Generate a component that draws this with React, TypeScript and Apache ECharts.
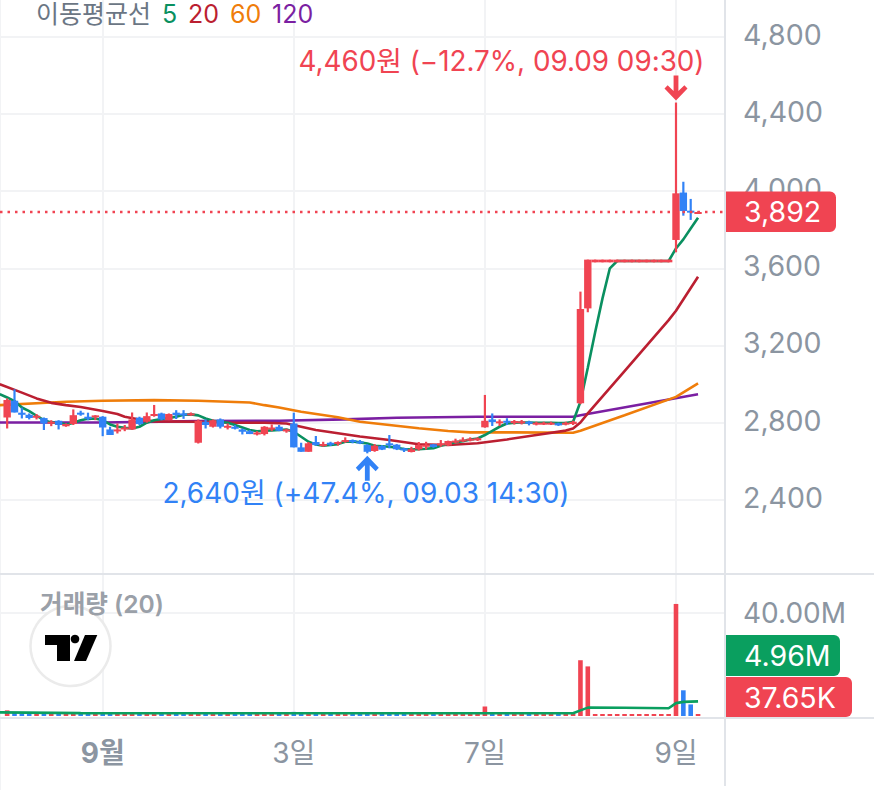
import React, { useEffect, useRef } from "react";
import * as echarts from "echarts";

const RED = "#f04452";
const BLUE = "#3182f6";
const GREY = "#8b95a1";
const GRID = "#f2f3f5";
const SEP = "#e1e4e9";
const FONT = 'Inter, "Noto Sans CJK KR", sans-serif';

// open, close, low, high for every 30-minute bar
const candles: number[][] = [
  [2826,2917,2769,2925],[2913,2852,2852,2972],[2851,2840,2821,2877],[2840,2823,2816,2847],[2828,2835,2816,2844],
  [2823,2795,2761,2826],[2799,2804,2781,2812],[2809,2787,2764,2812],[2781,2792,2778,2795],[2792,2838,2787,2868],
  [2851,2842,2835,2861],[2830,2819,2812,2851],[2828,2837,2812,2838],[2830,2774,2729,2833],[2764,2735,2735,2778],
  [2757,2764,2743,2795],[2764,2774,2755,2787],[2764,2816,2761,2852],[2825,2792,2787,2830],[2804,2833,2799,2852],
  [2837,2844,2830,2891],[2847,2816,2812,2851],[2812,2844,2812,2847],[2851,2838,2818,2864],[2847,2838,2819,2864],
  [2840,2847,2835,2852],[2695,2809,2691,2816],[2804,2787,2769,2816],[2778,2812,2774,2816],[2816,2778,2769,2821],
  [2776,2783,2764,2795],[2778,2773,2764,2787],[2764,2752,2738,2769],[2755,2740,2740,2761],[2740,2748,2733,2755],
  [2740,2778,2733,2781],[2768,2774,2755,2790],[2778,2757,2755,2787],[2757,2764,2747,2768],[2795,2671,2671,2851],
  [2671,2648,2648,2695],[2648,2692,2648,2699],[2699,2683,2680,2730],[2681,2688,2674,2700],[2695,2685,2678,2700],
  [2690,2699,2680,2702],[2700,2709,2695,2723],[2709,2699,2692,2712],[2702,2692,2688,2709],[2683,2648,2640,2688],
  [2652,2680,2648,2688],[2678,2659,2657,2683],[2692,2683,2666,2735],[2685,2661,2657,2688],[2666,2655,2647,2669],
  [2647,2661,2645,2674],[2661,2683,2654,2699],[2674,2685,2660,2700],[2687,2673,2669,2688],[2681,2692,2674,2709],
  [2681,2704,2678,2706],[2699,2706,2692,2716],[2706,2712,2699,2723],[2709,2716,2702,2723],[2711,2718,2704,2723],
  [2775,2809,2773,2943],[2816,2802,2782,2847],[2796,2806,2782,2816],[2809,2802,2787,2822],[2796,2808,2789,2813],
  [2796,2806,2790,2813],[2804,2796,2785,2809],[2790,2799,2785,2804],[2790,2799,2787,2804],[2792,2799,2787,2804],
  [2796,2785,2782,2799],[2790,2799,2785,2804],[2792,2804,2787,2809],[2900,3389,2895,3479],[3392,3645,3372,3645],
  [3631,3645,3631,3645],[3631,3645,3631,3645],[3631,3645,3631,3645],[3631,3645,3631,3645],[3631,3645,3631,3645],
  [3631,3645,3631,3645],[3631,3645,3631,3645],[3631,3645,3631,3645],[3631,3645,3631,3645],[3631,3645,3631,3645],
  [3631,3645,3631,3645],[3747,3989,3683,4460],[3993,3897,3873,4049],[3899,3892,3851,3960],[3885,3892,3885,3895],
];

// volume in millions, one value per bar
const volumes = [
  2.2,1.4,0.9,0.7,0.5,1.2,0.5,0.8,0.5,1.1,0.6,0.6,0.5,1.3,1.0,0.6,0.5,1.0,0.8,0.7,
  0.7,0.7,0.8,0.6,0.5,0.4,1.5,0.7,0.8,0.7,0.5,0.4,0.5,0.5,0.4,0.6,0.4,0.5,0.4,1.6,
  0.9,0.8,0.7,0.4,0.4,0.4,0.5,0.4,0.4,0.7,0.6,0.5,0.6,0.5,0.4,0.4,0.5,0.5,0.4,0.4,
  0.5,0.4,0.4,0.4,0.4,3.7,0.9,0.5,0.5,0.5,0.4,0.4,0.4,0.4,0.4,0.4,0.4,0.4,21.7,19.3,
  0.7,0.6,0.6,0.6,0.6,0.6,0.6,0.6,0.6,0.6,0.6,43.6,10.0,4.5,0.04,
];

// moving averages: [bar index, value]
const ma5: number[][] = [
  [-1,2947],[0,2930],[1,2911],[2,2878],[3,2859],[4,2835],[5,2812],[6,2800],[7,2800],[8,2790],[9,2797],[10,2812],
  [11,2819],[12,2821],[13,2812],[14,2790],[15,2778],[16,2773],[17,2769],[18,2778],[19,2799],[20,2812],[21,2818],
  [22,2823],[23,2830],[24,2840],[25,2842],[26,2837],[27,2821],[28,2809],[29,2804],[30,2799],[31,2787],[32,2774],
  [33,2761],[34,2755],[35,2757],[36,2759],[37,2761],[38,2764],[39,2752],[40,2726],[41,2700],[42,2686],[43,2679],
  [44,2683],[45,2688],[46,2700],[47,2702],[48,2697],[49,2691],[50,2679],[51,2677],[52,2674],[53,2669],[54,2662],
  [55,2660],[56,2662],[57,2664],[58,2667],[59,2679],[60,2688],[61,2698],[62,2703],[63,2712],[64,2717],[65,2735],
  [66,2757],[67,2778],[68,2795],[69,2799],[70,2800],[71,2800],[72,2799],[73,2799],[74,2799],[75,2797],[76,2797],
  [77,2804],[78,2908],[79,3084],[80,3268],[81,3444],[82,3600],[83,3638],[90,3638],[91,3703],[92,3750],
  [93,3807],[94,3862],
];
const ma20: number[][] = [
  [-1,2998],[2,2955],[4,2925],[6,2902],[8,2890],[10,2880],[13,2860],[15,2844],[16,2830],[18,2816],[20,2806],
  [26,2804],[31,2799],[35,2799],[38,2795],[40,2778],[42,2761],[45,2744],[48,2727],[52,2709],[56,2687],[60,2683],
  [64,2692],[68,2712],[72,2735],[76,2758],[77,2769],[78,2800],[79,2847],[84,3067],[90,3331],[91,3380],[94,3556],
];
const ma60: number[][] = [
  [-1,2890],[6,2904],[8,2908],[13,2913],[20,2916],[26,2913],[33,2904],[35,2890],[37,2878],[40,2856],[45,2827],
  [48,2804],[52,2787],[56,2770],[60,2756],[63,2749],[69,2749],[77,2747],[78,2757],[84,2838],[91,2933],[94,3003],
];
const ma120: number[][] = [
  [-1,2800],[13,2800],[26,2807],[37,2809],[46,2816],[53,2825],[64,2830],[77,2830],[78,2838],[94,2947],
];
const volMa: number[][] = [
  [-1,1.4],[10,1.1],[40,1.05],[60,1.05],[77,1.05],[78,2.2],[79,3.25],[84,3.2],[90,3.0],[91,5.0],[92,5.5],[94,5.7],
];

const xTickIndex = [13, 39, 65, 91];
const xTickLabels = ["9월", "3일", "7일", "9일"];
const priceTicks = [2400, 2800, 3200, 3600, 4000, 4400, 4800];
const volumeTicks = [40];

const lastPrice = "3,892";
const lastVolMa = "4.96M";
const lastVol = "37.65K";
const highText = "4,460원 (−12.7%, 09.09 09:30)";
const lowText = "2,640원 (+47.4%, 09.03 14:30)";

const arrowDown = "path://M8.7 0H13.3V15.5L19 9.7L22 13L11 25L0 13L3 9.7L8.7 15.5Z";
const arrowUp = "path://M8.7 25H13.3V9.5L19 15.3L22 12L11 0L0 12L3 15.3L8.7 9.5Z";

function tag(top: number, h: number, right: number, color: string, label: string) {
  return [
    { type: "rect", z: 50, shape: { x: 726, y: top, width: right - 726, height: h, r: [0, 6, 6, 0] }, style: { fill: color } },
    { type: "text", z: 51, x: 744, y: top + h / 2, style: { text: label, fill: "#fff", fontFamily: FONT, fontSize: 28.5, align: "left", verticalAlign: "middle" } },
  ];
}

function legendText(x: number, text: string, fill: string) {
  return { type: "text", z: 8, x, y: 14, style: { text, fill, fontFamily: FONT, fontSize: 25, align: "left", verticalAlign: "middle" } };
}

export default function App() {
  const ref = useRef<HTMLDivElement>(null);
  useEffect(() => {
    document.body.style.margin = "0";
    const chart = echarts.init(ref.current!, undefined, { renderer: "svg" });
    const xBase = {
      type: "value",
      min: -0.973,
      max: 97.667,
      axisLine: { show: false },
      axisTick: { show: false, customValues: xTickIndex },
      splitLine: { show: true, lineStyle: { color: GRID, width: 2 } },
    };
    const yBase = {
      type: "value",
      position: "right",
      axisLine: { show: false },
      axisTick: { show: false },
      splitLine: { show: true, lineStyle: { color: GRID, width: 2 } },
    };
    const line = (name: string, data: number[][], color: string, extra: object = {}) => ({
      name, type: "line", data, showSymbol: false, symbol: "none", z: 2,
      lineStyle: { color, width: 2.6 }, itemStyle: { color }, silent: true, ...extra,
    });
    chart.setOption({
      animation: false,
      grid: [
        { left: 0, top: 0, width: 725, height: 573.5 },
        { left: 0, top: 574, width: 725, height: 142 },
      ],
      xAxis: [
        { ...xBase, gridIndex: 0, axisLabel: { show: false } },
        {
          ...xBase, gridIndex: 1,
          axisLabel: {
            show: true, customValues: xTickIndex, margin: 23, color: GREY, fontFamily: FONT, fontSize: 28,
            formatter: (v: number) => {
              const t = xTickLabels[xTickIndex.indexOf(v)] ?? "";
              return t === "9월" ? `{b|${t}}` : t;
            },
            rich: { b: { fontWeight: "bold", color: GREY, fontFamily: FONT, fontSize: 28 } },
          },
        },
      ],
      yAxis: [
        {
          ...yBase, gridIndex: 0, min: 2016.6, max: 4992,
          axisTick: { show: false, customValues: priceTicks },
          axisLabel: {
            customValues: priceTicks, margin: 18, color: GREY, fontFamily: FONT, fontSize: 28.5,
            verticalAlign: "bottom", lineHeight: 5,
            formatter: (v: number) => v.toLocaleString("en-US"),
          },
        },
        {
          ...yBase, gridIndex: 1, min: 0, max: 55.25,
          axisTick: { show: false, customValues: volumeTicks },
          axisLabel: {
            customValues: volumeTicks, margin: 18, color: GREY, fontFamily: FONT, fontSize: 28,
            formatter: (v: number) => `${v.toFixed(2)}M`,
          },
        },
      ],
      series: [
        line("MA120", ma120, "#7b1fa2", {
          markLine: {
            silent: true, symbol: "none", label: { show: false },
            lineStyle: { color: RED, type: [2.5, 5], width: 2.4 },
            data: [{ yAxis: 3892 }],
          },
          markPoint: {
            silent: true, label: { show: false },
            data: [
              { coord: [91, 4460], symbol: arrowDown, symbolSize: [23, 25], symbolOffset: [0, -14.5], itemStyle: { color: RED } },
              { coord: [49, 2640], symbol: arrowUp, symbolSize: [23, 25], symbolOffset: [0, 15], itemStyle: { color: BLUE } },
            ],
          },
        }),
        line("MA60", ma60, "#ef7d0a"),
        line("MA20", ma20, "#bb1f31"),
        line("MA5", ma5, "#0a9060"),
        {
          name: "price", type: "custom", z: 3, silent: true,
          data: candles.map((c, i) => [i, ...c]),
          encode: { x: 0, y: [1, 2, 3, 4] },
          renderItem: (_: any, api: any) => {
            const i = api.value(0), o = api.value(1), c = api.value(2);
            const color = c >= o ? RED : BLUE;
            const [x, yo] = api.coord([i, o]);
            const yc = api.coord([i, c])[1];
            const yl = api.coord([i, api.value(3)])[1];
            const yh = api.coord([i, api.value(4)])[1];
            const top = Math.min(yo, yc);
            const h = Math.max(Math.abs(yo - yc), 2);
            return {
              type: "group",
              children: [
                { type: "line", shape: { x1: x, y1: yh, x2: x, y2: yl }, style: { stroke: color, lineWidth: 2.2 } },
                { type: "rect", shape: { x: x - 3.7, y: top, width: 7.4, height: h }, style: { fill: color } },
              ],
            };
          },
        },
        {
          name: "volume", type: "bar", xAxisIndex: 1, yAxisIndex: 1, barWidth: 4.6, barMinHeight: 2, z: 2, silent: true,
          data: volumes.map((v, i) => ({
            value: [i, v],
            itemStyle: { color: candles[i][1] >= candles[i][0] ? RED : BLUE },
          })),
        },
        line("volMA", volMa, "#0a9f5f", { xAxisIndex: 1, yAxisIndex: 1, z: 3 }),
      ],
      graphic: [
        { type: "line", z: 1, shape: { x1: 0.5, y1: 0, x2: 0.5, y2: 790 }, style: { stroke: GRID, lineWidth: 1 } },
        { type: "line", z: 5, shape: { x1: 0, y1: 574, x2: 874, y2: 574 }, style: { stroke: SEP, lineWidth: 2 } },
        { type: "line", z: 5, shape: { x1: 0, y1: 718, x2: 874, y2: 718 }, style: { stroke: SEP, lineWidth: 2 } },
        { type: "line", z: 5, shape: { x1: 725, y1: 0, x2: 725, y2: 786 }, style: { stroke: SEP, lineWidth: 2 } },
        { type: "circle", z: 6, shape: { cx: 70.5, cy: 646, r: 40 }, style: { fill: "#fff", stroke: "#ebebeb", lineWidth: 2.5 } },
        { type: "polygon", z: 7, shape: { points: [[45, 635], [70, 635], [70, 661], [57, 661], [57, 645], [45, 645]] }, style: { fill: "#000" } },
        { type: "circle", z: 7, shape: { cx: 75, cy: 639, r: 4.3 }, style: { fill: "#000" } },
        { type: "polygon", z: 7, shape: { points: [[85, 635], [97.3, 635], [86, 661], [74, 661]] }, style: { fill: "#000" } },
        { type: "text", z: 8, x: 40, y: 604, style: { text: "거래량 (20)", fill: "#9aa0a8", fontFamily: FONT, fontSize: 24.6, fontWeight: 600, align: "left", verticalAlign: "middle" } },
        legendText(36, "이동평균선", "#6b7684"),
        legendText(162, "5", "#0a9060"),
        legendText(188, "20", "#bb1f31"),
        legendText(230, "60", "#ef7d0a"),
        legendText(272, "120", "#7b1fa2"),
        { type: "text", z: 8, x: 501.5, y: 61, style: { text: highText, fill: RED, fontFamily: FONT, fontSize: 27.8, align: "center", verticalAlign: "middle" } },
        { type: "text", z: 8, x: 366, y: 493, style: { text: lowText, fill: BLUE, fontFamily: FONT, fontSize: 28, align: "center", verticalAlign: "middle" } },
        ...tag(191.5, 40.5, 836, RED, lastPrice),
        ...tag(635, 41, 840, "#0a9f5f", lastVolMa),
        ...tag(677, 40, 852, RED, lastVol),
      ],
    });
    return () => chart.dispose();
  }, []);
  return <div ref={ref} style={{ position: "absolute", left: 0, top: 0, width: 874, height: 790 }} />;
}
